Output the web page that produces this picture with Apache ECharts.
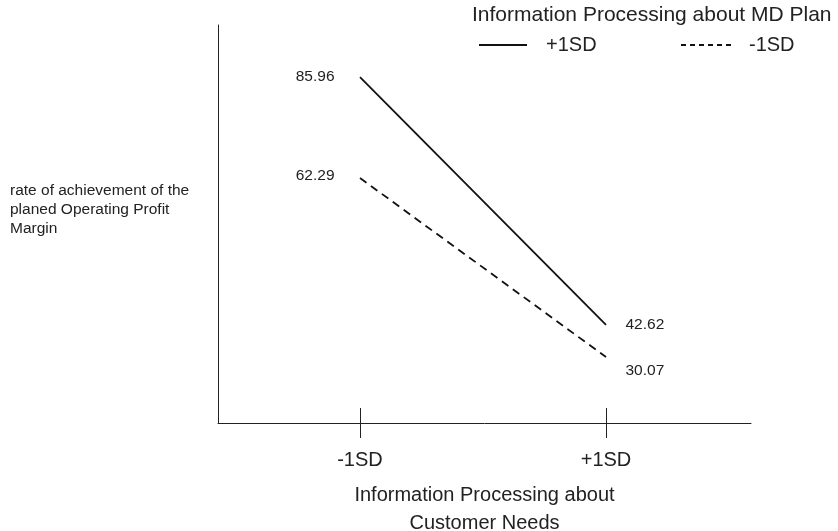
<!DOCTYPE html>
<html>
<head>
<meta charset="utf-8">
<script src="https://cdn.jsdelivr.net/npm/echarts@6/dist/echarts.min.js"></script>
<style>
html,body{margin:0;padding:0;background:#fff;}
#chart{width:838px;height:531px;}
</style>
</head>
<body>
<div id="chart"></div>
<script>
// ---- data ----
var categories = ['-1SD', '+1SD'];
var seriesNames = ['+1SD', '-1SD'];
var highMD = [85.96, 42.62];   // Information Processing about MD Plan +1SD
var lowMD  = [62.29, 30.07];   // Information Processing about MD Plan -1SD
var legendTitle = 'Information Processing about MD Plan';
var xTitle = 'Information Processing about\nCustomer Needs';
var yTitle = 'rate of achievement of the\nplaned Operating Profit\nMargin';

var FONT = '"Liberation Sans", Arial, Helvetica, sans-serif';
var TXT = '#222';

function buildData(vals, cfgs) {
  return vals.map(function (v, i) {
    return { value: [i + 1, v], label: cfgs[i] };
  });
}

var chart = echarts.init(document.getElementById('chart'), null, { renderer: 'canvas' });

var tickVals = categories.map(function (c, i) { return i + 1; });

var option = {
  animation: false,
  backgroundColor: '#fff',
  title: [
    {
      text: legendTitle, left: 472, top: 3, padding: 0,
      textStyle: { fontFamily: FONT, fontSize: 21, fontWeight: 'normal', color: TXT, lineHeight: 24 }
    },
    {
      text: yTitle, left: 10, top: 181, padding: 0,
      textStyle: { fontFamily: FONT, fontSize: 15.5, fontWeight: 'normal', color: TXT, lineHeight: 19 }
    }
  ],
  legend: [
    {
      data: [seriesNames[0]], left: 478, top: 35, padding: 0,
      itemWidth: 48, itemHeight: 14,
      textStyle: { fontFamily: FONT, fontSize: 20, color: TXT, padding: [0, 0, 0, 14] }
    },
    {
      data: [seriesNames[1]], left: 680, top: 35, padding: 0,
      itemWidth: 53, itemHeight: 14,
      lineStyle: { type: [5, 4] },
      textStyle: { fontFamily: FONT, fontSize: 20, color: TXT, padding: [0, 0, 0, 10] }
    }
  ],
  grid: { left: 218, right: 87, top: 25, bottom: 108, containLabel: false, outerBoundsMode: 'none' },
  xAxis: [
    {
      type: 'value', min: 0.4228, max: 2.5894, position: 'bottom',
      splitLine: { show: false },
      axisLine: { show: true, onZero: false, lineStyle: { color: '#222', width: 1 } },
      axisTick: { show: true, customValues: tickVals, length: 15, lineStyle: { color: '#222', width: 1 } },
      axisLabel: {
        show: true, customValues: tickVals, margin: 27,
        fontFamily: FONT, fontSize: 20, color: TXT,
        formatter: function (v) { return categories[Math.round(v) - 1] || ''; }
      },
      name: xTitle, nameLocation: 'middle', nameGap: 58,
      nameTextStyle: { fontFamily: FONT, fontSize: 20, color: TXT, lineHeight: 28 }
    },
    {
      type: 'value', min: 0.4228, max: 2.5894, position: 'bottom',
      splitLine: { show: false },
      axisLine: { show: false },
      axisTick: { show: true, inside: true, customValues: tickVals, length: 15, lineStyle: { color: '#222', width: 1 } },
      axisLabel: { show: false }
    }
  ],
  yAxis: [
    {
      type: 'value', min: 25.49, max: 95.05,
      axisLine: { show: true, onZero: false, lineStyle: { color: '#222', width: 1 } },
      axisTick: { show: false }, axisLabel: { show: false }, splitLine: { show: false }
    },
    {
      type: 'value', min: 18.19, max: 89.83, position: 'left',
      axisLine: { show: false }, axisTick: { show: false }, axisLabel: { show: false }, splitLine: { show: false }
    }
  ],
  series: [
    {
      name: seriesNames[0], type: 'line', xAxisIndex: 0, yAxisIndex: 0,
      symbol: 'circle', symbolSize: 1, showSymbol: true,
      lineStyle: { color: '#111', width: 1.8, type: 'solid' },
      itemStyle: { color: 'rgba(0,0,0,0)', borderWidth: 0 },
      label: { show: true, fontFamily: FONT, fontSize: 15.5, color: TXT,
               formatter: function (p) { return p.value[1].toFixed(2); } },
      data: buildData(highMD, [
        { position: 'left', distance: 25 },
        { position: 'right', distance: 19 }
      ])
    },
    {
      name: seriesNames[1], type: 'line', xAxisIndex: 0, yAxisIndex: 1,
      symbol: 'circle', symbolSize: 1, showSymbol: true,
      lineStyle: { color: '#111', width: 1.8, type: [8, 5.5] },
      itemStyle: { color: 'rgba(0,0,0,0)', borderWidth: 0 },
      label: { show: true, fontFamily: FONT, fontSize: 15.5, color: TXT,
               formatter: function (p) { return p.value[1].toFixed(2); } },
      data: buildData(lowMD, [
        { position: 'left', distance: 25, offset: [0, -2] },
        { position: 'right', distance: 19, offset: [0, 14] }
      ])
    }
  ]
};

chart.setOption(option);
</script>
</body>
</html>
